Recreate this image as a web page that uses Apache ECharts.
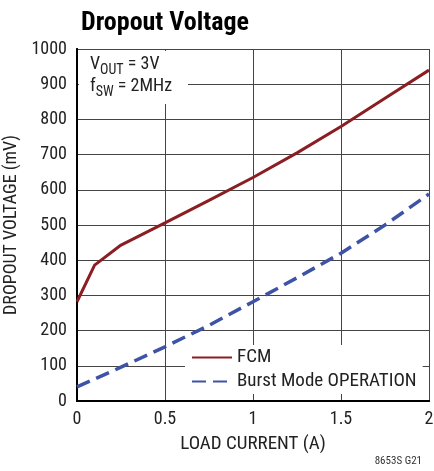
<!DOCTYPE html>
<html>
<head>
<meta charset="utf-8">
<script src="https://cdn.jsdelivr.net/npm/echarts@6/dist/echarts.min.js"></script>
<style>
  html, body { margin: 0; padding: 0; background: #fff; }
  #chart { width: 434px; height: 471px; }
</style>
</head>
<body>
<div id="chart"></div>
<script>
// load current (A)
const loadCurrent = [0, 0.1, 0.25, 0.5, 0.75, 1.0, 1.25, 1.5, 1.75, 2.0]
// dropout voltage (mV)
const fcm = [282, 386, 443, 506, 570, 635, 705, 780, 860, 940]
const burstCurrent = [0, 0.25, 0.5, 0.75, 1.0, 1.25, 1.5, 1.75, 2.0]
const burst = [40, 96, 154, 215, 282, 350, 420, 500, 588]

const font = '"Liberation Sans Narrow", "Roboto Condensed", "Liberation Sans", sans-serif'
const gridColor = '#444'
const frameLine = { show: true, lineStyle: { color: '#000', width: 2 } }

const chart = echarts.init(document.getElementById('chart'))
chart.setOption({
  animation: false,
  title: {
    text: 'Dropout Voltage',
    left: 76,
    top: 5,
    textStyle: { fontFamily: font, fontSize: 26, fontWeight: 'bold', color: '#000' }
  },
  grid: {
    left: 77,
    right: 5,
    top: 49,
    bottom: 70,
    outerBoundsMode: 'none'
  },
  legend: {
    orient: 'vertical',
    left: 185,
    top: 345,
    padding: [3, 6, 3, 6],
    itemGap: 5,
    itemWidth: 40,
    itemHeight: 14,
    backgroundColor: '#fff',
    itemStyle: { opacity: 0 },
    textStyle: { fontFamily: font, fontSize: 19, color: '#222' },
    data: ['FCM', 'Burst Mode OPERATION']
  },
  xAxis: [
    {
      type: 'value',
      min: 0,
      max: 2,
      interval: 0.5,
      name: 'LOAD CURRENT (A)',
      nameLocation: 'middle',
      nameGap: 34,
      nameTextStyle: { fontFamily: font, fontSize: 19, color: '#222' },
      axisLine: frameLine,
      axisTick: { show: false },
      axisLabel: { fontFamily: font, fontSize: 18, color: '#222', margin: 9 },
      splitLine: { lineStyle: { color: gridColor, width: 1 } }
    },
    {
      type: 'value',
      position: 'top',
      min: 0,
      max: 2,
      interval: 0.5,
      axisLine: frameLine,
      axisTick: { show: false },
      axisLabel: { show: false },
      splitLine: { show: false }
    }
  ],
  yAxis: [
    {
      type: 'value',
      min: 0,
      max: 1000,
      interval: 100,
      name: 'DROPOUT VOLTAGE (mV)',
      nameLocation: 'middle',
      nameGap: 57,
      nameTextStyle: { fontFamily: font, fontSize: 18, color: '#222' },
      axisLine: frameLine,
      axisTick: { show: false },
      axisLabel: { fontFamily: font, fontSize: 18, color: '#222', margin: 10, formatter: v => String(v) },
      splitLine: { lineStyle: { color: gridColor, width: 1 } }
    },
    {
      type: 'value',
      position: 'right',
      min: 0,
      max: 1000,
      interval: 100,
      axisLine: frameLine,
      axisTick: { show: false },
      axisLabel: { show: false },
      splitLine: { show: false }
    }
  ],
  graphic: [
    {
      type: 'rect',
      z: 1,
      left: 79,
      top: 51,
      shape: { width: 109, height: 53 },
      style: { fill: '#fff' }
    },
    {
      type: 'text',
      z: 3,
      left: 90,
      top: 55,
      style: {
        text: '{a|V}{s|OUT}{a| = 3V}\n{a|f}{s|SW}{a| = 2MHz}',
        fontFamily: font,
        fill: '#222',
        rich: {
          a: { fontFamily: font, fontSize: 18, lineHeight: 22, fill: '#222', verticalAlign: 'top' },
          s: { fontFamily: font, fontSize: 14, lineHeight: 22, fill: '#222', verticalAlign: 'bottom', padding: [8, 0, 0, 0] }
        }
      }
    },
    {
      type: 'text',
      right: 12,
      bottom: 4,
      style: { text: '8653S G21', fontFamily: font, fontSize: 11, fill: '#333' }
    }
  ],
  series: [
    {
      name: 'FCM',
      type: 'line',
      symbol: 'none',
      z: 3,
      color: '#8b1e22',
      lineStyle: { color: '#8b1e22', width: 3 },
      data: loadCurrent.map((x, i) => [x, fcm[i]])
    },
    {
      name: 'Burst Mode OPERATION',
      type: 'line',
      symbol: 'none',
      z: 3,
      color: '#3f53a6',
      lineStyle: { color: '#3f53a6', width: 3.5, type: [14, 7] },
      data: burstCurrent.map((x, i) => [x, burst[i]])
    }
  ]
})
</script>
</body>
</html>
